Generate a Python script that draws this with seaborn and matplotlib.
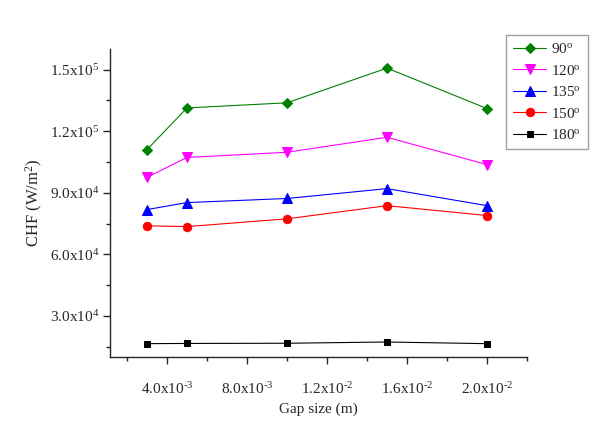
import numpy as np
import pandas as pd
import matplotlib
matplotlib.use("Agg")
import matplotlib.pyplot as plt
import seaborn as sns

gap = [0.003, 0.005, 0.010, 0.015, 0.020]
chf_90 = [1.110e5, 1.313e5, 1.338e5, 1.507e5, 1.310e5]
chf_120 = [9.75e4, 1.072e5, 1.097e5, 1.170e5, 1.037e5]
chf_135 = [8.18e4, 8.52e4, 8.72e4, 9.20e4, 8.37e4]
chf_150 = [7.39e4, 7.35e4, 7.73e4, 8.37e4, 7.89e4]
chf_180 = [1.65e4, 1.66e4, 1.67e4, 1.73e4, 1.65e4]
labels = ["90$^{\\rm o}$", "120$^{\\rm o}$", "135$^{\\rm o}$", "150$^{\\rm o}$", "180$^{\\rm o}$"]
colors = ["#008000", "#FF00FF", "#0000FF", "#FF0000", "#000000"]
markers = ["D", "v", "^", "o", "s"]
msizes = [5.5, 7, 7, 6, 5]

xticks = [0.004, 0.008, 0.012, 0.016, 0.020]
xticklabels = ["4.0x10$^{\\text{-3}}$", "8.0x10$^{\\text{-3}}$", "1.2x10$^{\\text{-2}}$",
               "1.6x10$^{\\text{-2}}$", "2.0x10$^{\\text{-2}}$"]
yticks = [3.0e4, 6.0e4, 9.0e4, 1.2e5, 1.5e5]
yticklabels = ["3.0x10$^{4}$", "6.0x10$^{4}$", "9.0x10$^{4}$", "1.2x10$^{5}$", "1.5x10$^{5}$"]

series = [chf_90, chf_120, chf_135, chf_150, chf_180]
df = pd.concat([pd.DataFrame({"gap": gap, "chf": s, "angle": lab})
                for s, lab in zip(series, labels)], ignore_index=True)

sns.set_style("ticks")
plt.rcParams["font.family"] = ["Liberation Serif", "DejaVu Serif"]
plt.rcParams["mathtext.fontset"] = "custom"
plt.rcParams["mathtext.rm"] = "Liberation Serif"
plt.rcParams["mathtext.it"] = "Liberation Serif:italic"
plt.rcParams["mathtext.bf"] = "Liberation Serif:bold"

fig = plt.figure(figsize=(6.12, 4.28), dpi=100)
ax = fig.add_axes([110/612, 1-357/428, (527-110)/612, (357-49)/428])

for lab, c, m, ms in zip(labels, colors, markers, msizes):
    sub = df[df["angle"] == lab]
    sns.lineplot(data=sub, x="gap", y="chf", ax=ax, color=c, marker=m,
                 markersize=ms, markeredgecolor=c, linewidth=0.8,
                 label=lab, legend=False)

ax.set_xlim(0.00115, 0.022)
ax.set_ylim(1.0e4, 1.6e5)
ax.set_xticks(xticks)
ax.set_xticklabels(xticklabels, fontsize=11)
ax.set_xticks(np.arange(0.002, 0.0221, 0.004), minor=True)
ax.set_yticks(yticks)
ax.set_yticklabels(yticklabels, fontsize=11)
ax.set_yticks(np.arange(1.5e4, 1.61e5, 3.0e4), minor=True)
ax.tick_params(which="major", direction="out", length=5, width=1)
ax.tick_params(which="minor", direction="out", length=3, width=1)
ax.tick_params(axis="y", which="major", pad=3)
ax.tick_params(axis="x", which="major", pad=12)
for sp in ["top", "right"]:
    ax.spines[sp].set_visible(False)
for sp in ["left", "bottom"]:
    ax.spines[sp].set_linewidth(1.0)

ax.set_xlabel("Gap size (m)", fontsize=11, labelpad=4)
ax.set_ylabel("CHF (W/m$^{2}$)", fontsize=12, labelpad=3)

handles, labs = ax.get_legend_handles_labels()
leg = fig.legend(handles, labs, loc="upper left",
                 bbox_to_anchor=(506/612, 1-35/428), fontsize=11,
                 frameon=True, fancybox=False, edgecolor="#888888",
                 handlelength=2.2, handletextpad=0.3, labelspacing=0.5,
                 borderpad=0.45, borderaxespad=0)
leg.get_frame().set_linewidth(1.0)

fig.savefig("out.png", dpi=100)
